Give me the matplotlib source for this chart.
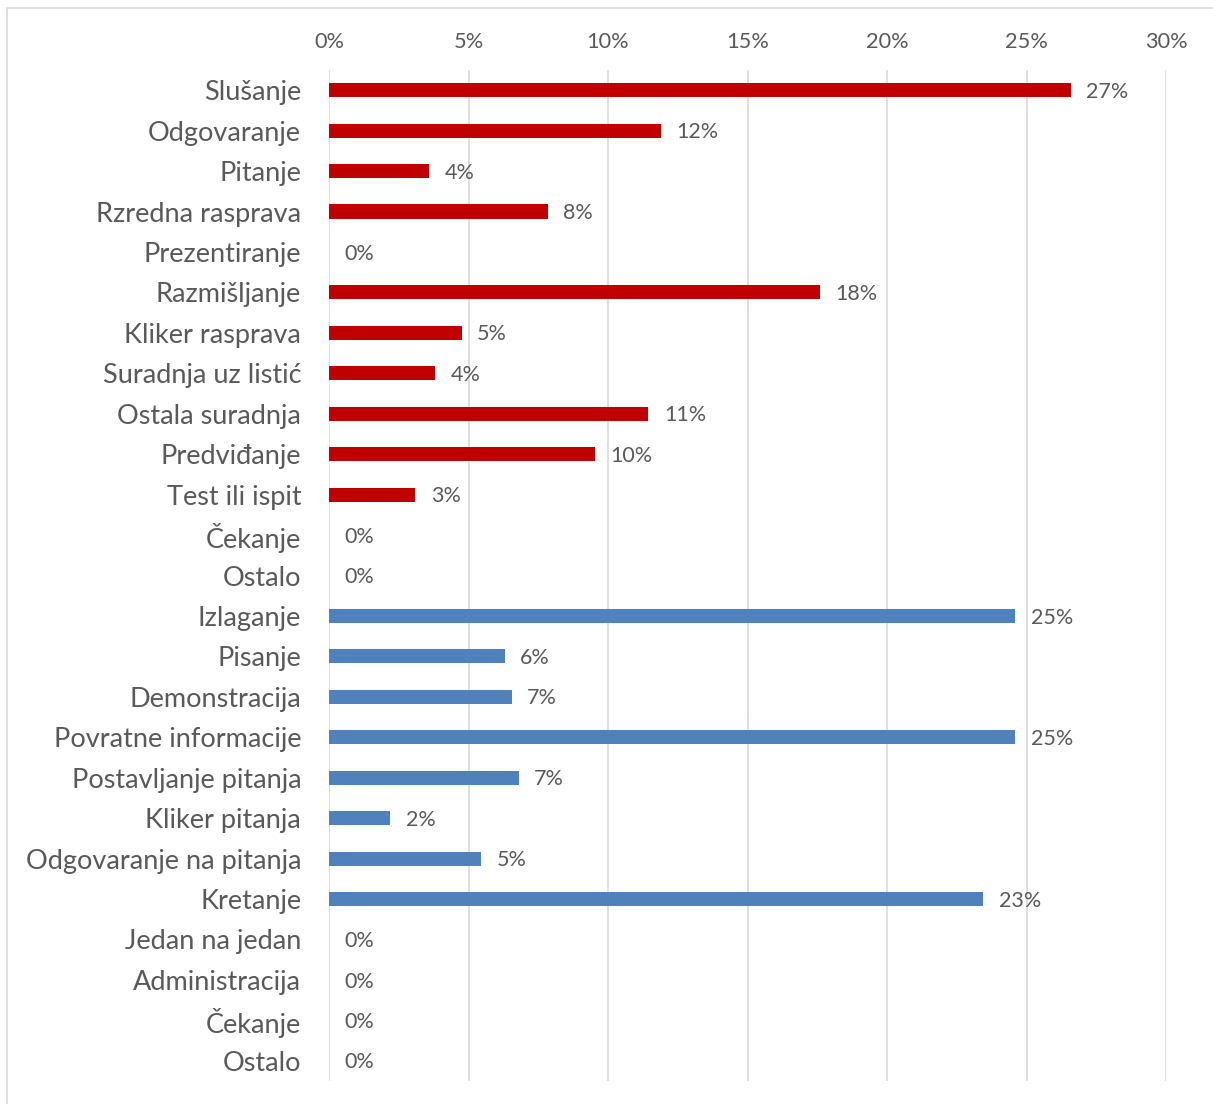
import matplotlib
matplotlib.use("Agg")
import matplotlib.pyplot as plt
from matplotlib.patches import Rectangle
from matplotlib.ticker import FuncFormatter

categories = ["Slušanje", "Odgovaranje", "Pitanje", "Rzredna rasprava", "Prezentiranje",
              "Razmišljanje", "Kliker rasprava", "Suradnja uz listić", "Ostala suradnja",
              "Predviđanje", "Test ili ispit", "Čekanje", "Ostalo",
              "Izlaganje", "Pisanje", "Demonstracija", "Povratne informacije",
              "Postavljanje pitanja", "Kliker pitanja", "Odgovaranje na pitanja",
              "Kretanje", "Jedan na jedan", "Administracija", "Čekanje", "Ostalo"]
student_values = [26.6, 11.9, 3.6, 7.85, 0, 17.6, 4.75, 3.8, 11.45, 9.55, 3.1, 0, 0]
teacher_values = [24.6, 6.3, 6.55, 24.6, 6.8, 2.2, 5.45, 23.45, 0, 0, 0, 0]
xticks = [0, 5, 10, 15, 20, 25, 30]

RED = "#C00000"
BLUE = "#4F81BD"
TXT = "#595959"
FONT = ["Lato", "DejaVu Sans"]

W, H = 1213, 1104
fig = plt.figure(figsize=(W / 100, H / 100), dpi=100)
fig.patch.set_facecolor("white")
# outer chart border (partly cut off at right/bottom)
fig.patches.append(Rectangle((7 / W, -0.01), 1.02, 1 - 8 / H + 0.01, transform=fig.transFigure,
                             fill=False, edgecolor="#D9D9D9", linewidth=1.2))

left, right = 329 / W, 1166 / W
top, bottom = 1 - 70 / H, 1 - 1081 / H
ax = fig.add_axes([left, bottom, right - left, top - bottom])

values = student_values + teacher_values
colors = [RED] * len(student_values) + [BLUE] * len(teacher_values)
n = len(categories)
ypos = list(range(n))
ax.barh(ypos, values, height=0.35, color=colors, zorder=3)
ax.set_ylim(n - 0.5, -0.5)
ax.set_xlim(0, 30)
ax.set_yticks(ypos)
ax.set_yticklabels(categories, fontsize=19.5, color=TXT, family=FONT)
ax.set_xticks(xticks)
ax.xaxis.set_major_formatter(FuncFormatter(lambda v, p: f"{int(v)}%"))
ax.xaxis.tick_top()
for lab in ax.get_xticklabels():
    lab.set_fontsize(15.7)
    lab.set_color(TXT)
    lab.set_family(FONT)
ax.tick_params(axis="x", length=0, pad=13)
ax.tick_params(axis="y", length=0, pad=20)
ax.grid(axis="x", color="#D9D9D9", linewidth=1.2, zorder=0)
for s in ax.spines.values():
    s.set_visible(False)

for y, v in zip(ypos, values):
    ax.text(v + 0.55, y + 0.04, f"{round(v):.0f}%", va="center", ha="left",
            fontsize=15.5, color=TXT, family=FONT)

fig.savefig("out.png", dpi=100, facecolor="white")
